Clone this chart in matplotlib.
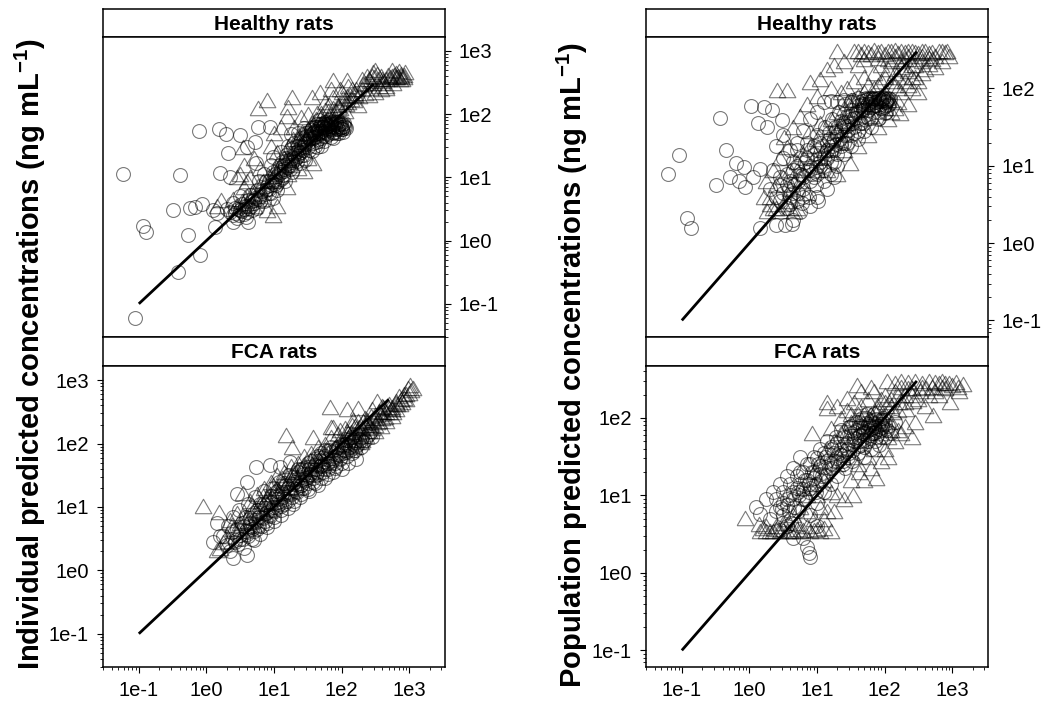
import numpy as np
import matplotlib
matplotlib.use("Agg")
import matplotlib.pyplot as plt
from matplotlib.ticker import FixedLocator, FixedFormatter, LogLocator, NullFormatter

plt.rcParams['font.family'] = ['Liberation Sans', 'DejaVu Sans']
plt.rcParams['mathtext.fontset'] = 'custom'
plt.rcParams['mathtext.rm'] = 'Liberation Sans:bold'
plt.rcParams['mathtext.bf'] = 'Liberation Sans:bold'
plt.rcParams['mathtext.default'] = 'bf'

# ---------------- data (log10 of observed x, log10 of predicted y) ----------------
tick_values = [0.1, 1, 10, 100, 1000]
tick_labels = ['1e-1', '1e0', '1e1', '1e2', '1e3']
strip_labels = ['Healthy rats', 'FCA rats']
ylabels = ['Individual predicted concentrations (ng mL$^{-1}$)',
           'Population predicted concentrations (ng mL$^{-1}$)']

healthy_ipred_circ_log10 = [
    (-1.24, 1.05), (-0.39, 1.03), (-0.11, 1.73), (0.19, 1.76), (0.29, 1.68), (0.49, 1.67), (0.77, 1.80),
    (-0.94, 0.23), (-0.89, 0.13), (-0.50, 0.48), (-0.27, 0.09), (-0.25, 0.51), (-0.17, 0.53), (-0.07, 0.58),
    (-0.10, -0.23), (-0.42, -0.49), (-1.06, -1.23), (0.20, 1.07), (0.32, 1.38), (0.60, 1.48), (0.72, 1.56),
    (0.35, 1.01), (0.99, 1.33), (0.94, 1.80), (0.74, 1.22), (0.15, 0.43), (0.13, 0.22), (0.40, 0.30),
    (0.10, 0.48), (0.39, 0.40),
    (0.35, 0.45), (0.42, 0.52), (0.48, 0.40), (0.55, 0.50), (0.60, 0.46), (0.66, 0.55), (0.52, 0.58),
    (0.45, 0.35), (0.70, 0.60), (0.75, 0.52), (0.80, 0.70), (0.85, 0.62), (0.88, 0.80), (0.92, 0.95),
    (0.95, 0.75), (1.00, 0.90), (1.02, 1.05), (1.06, 1.15), (1.10, 0.98), (1.12, 1.25), (1.15, 1.10),
    (1.18, 1.35), (1.22, 1.20), (1.25, 1.45), (1.28, 1.30), (1.30, 1.55), (1.33, 1.40), (1.36, 1.50),
    (1.40, 1.62), (1.42, 1.35), (1.45, 1.55), (1.48, 1.70), (1.50, 1.48), (1.53, 1.62), (1.55, 1.75),
    (1.58, 1.55), (1.60, 1.68), (1.62, 1.80), (1.65, 1.60), (1.68, 1.72), (1.70, 1.85), (1.72, 1.66),
    (1.75, 1.78), (1.78, 1.70), (1.80, 1.82), (1.82, 1.75), (1.85, 1.86), (1.88, 1.72), (1.90, 1.80),
    (1.92, 1.88), (1.95, 1.76), (1.98, 1.84), (2.00, 1.80), (2.03, 1.86), (2.06, 1.78), (1.84, 1.64),
    (1.74, 1.58), (1.64, 1.48), (1.56, 1.42), (1.46, 1.28), (1.38, 1.22), (1.26, 1.08), (1.16, 0.95),
    (1.05, 0.80), (0.98, 0.68), (1.20, 1.50), (1.10, 1.40), (0.95, 1.20), (0.85, 1.05), (0.78, 0.95),
    (1.35, 1.70), (1.45, 1.78), (1.25, 1.68), (0.62, 0.30), (0.58, 0.38), (0.40, 0.60), (0.30, 0.50),
    (0.50, 0.70), (0.65, 0.72), (1.70, 1.50), (1.88, 1.62), (1.96, 1.70), (2.02, 1.72), (1.82, 1.90),
    (1.76, 1.88), (1.66, 1.90),
]
healthy_ipred_circ_core_log10 = [
    (0.42, 0.44), (0.47, 0.50), (0.53, 0.47), (0.57, 0.55), (0.63, 0.52), (0.68, 0.62), (0.72, 0.68),
    (0.77, 0.66), (0.82, 0.78), (0.86, 0.74), (0.90, 0.86), (0.93, 0.82), (0.97, 0.92), (1.01, 0.98),
    (1.04, 0.95), (1.08, 1.06), (1.11, 1.12), (1.14, 1.04), (1.17, 1.20), (1.20, 1.16), (1.23, 1.28),
    (1.26, 1.24), (1.29, 1.36), (1.32, 1.30), (1.35, 1.42), (1.37, 1.38), (1.40, 1.48), (1.43, 1.44),
    (1.46, 1.52), (1.49, 1.58), (1.51, 1.54), (1.54, 1.66), (1.57, 1.62), (1.59, 1.72), (1.61, 1.64),
    (1.63, 1.76), (1.66, 1.70), (1.69, 1.80), (1.71, 1.74), (1.73, 1.82), (1.76, 1.76), (1.79, 1.84),
    (1.81, 1.78), (1.83, 1.82), (1.86, 1.80), (1.89, 1.85), (1.91, 1.76), (1.94, 1.82), (1.97, 1.78),
    (1.99, 1.86), (2.01, 1.76), (2.04, 1.82), (1.87, 1.70), (1.77, 1.66), (1.67, 1.58), (1.60, 1.50),
    (1.52, 1.44), (1.44, 1.36), (1.34, 1.26), (1.24, 1.14), (1.13, 1.00), (1.03, 0.88), (0.92, 0.76),
    (0.80, 0.62), (0.67, 0.48), (0.55, 0.42), (1.93, 1.70), (1.84, 1.88), (1.74, 1.86), (1.64, 1.84),
    (1.56, 1.78), (1.47, 1.66), (1.38, 1.56), (1.28, 1.46), (1.18, 1.30), (1.09, 1.20), (0.99, 1.08),
    (0.88, 0.94), (0.75, 0.80), (0.62, 0.64),
    (1.52, 1.60), (1.55, 1.68), (1.58, 1.64), (1.61, 1.74), (1.64, 1.66), (1.67, 1.78), (1.70, 1.70),
    (1.72, 1.80), (1.75, 1.72), (1.78, 1.82), (1.80, 1.76), (1.83, 1.86), (1.86, 1.76), (1.88, 1.82),
    (1.91, 1.86), (1.93, 1.78), (1.96, 1.84), (1.99, 1.80), (2.02, 1.84), (2.05, 1.80), (1.90, 1.72),
    (1.80, 1.68), (1.70, 1.62), (1.62, 1.56), (1.95, 1.88), (1.85, 1.84), (1.75, 1.84), (1.65, 1.74),
    (1.57, 1.70), (2.00, 1.76), (1.30, 1.28), (1.20, 1.22), (1.10, 1.08), (1.00, 0.94), (0.90, 0.82),
    (0.80, 0.74), (0.70, 0.64), (0.60, 0.55), (0.50, 0.48), (1.40, 1.40), (1.45, 1.48), (1.35, 1.34),
    (1.25, 1.20), (1.15, 1.14), (1.05, 1.02), (0.95, 0.88),
]
healthy_ipred_tri_log10 = [
    (0.45, 1.01), (0.54, 1.48), (0.50, 1.05), (0.60, 0.95), (0.55, 0.85), (0.65, 1.00), (0.77, 2.09),
    (0.89, 2.22), (1.26, 2.27), (1.56, 2.27), (1.21, 2.12), (1.19, 1.97), (1.64, 2.02), (1.88, 2.27),
    (2.08, 2.54), (1.88, 2.54), (2.47, 2.67), (2.82, 2.59), (2.92, 2.62), (2.80, 2.65), (2.90, 2.55),
    (2.60, 2.55), (2.55, 2.45), (2.35, 2.50), (2.30, 2.40), (2.20, 2.30), (2.10, 2.20), (2.25, 2.15),
    (2.40, 2.30), (2.65, 2.45), (2.15, 2.40), (2.00, 2.35), (1.95, 2.15), (1.80, 2.05), (1.75, 2.20),
    (1.70, 1.95), (1.65, 1.85), (1.55, 1.80), (1.45, 1.70), (1.35, 1.60), (1.30, 1.80), (1.40, 1.95),
    (1.50, 2.00), (1.10, 1.80), (1.00, 1.70), (0.95, 1.50), (1.05, 1.40), (1.15, 1.30), (1.25, 1.20),
    (1.35, 1.15), (1.50, 1.30), (1.58, 1.22), (1.45, 1.10), (1.20, 1.05), (1.00, 0.95), (0.89, 0.48),
    (1.19, 0.85), (0.85, 0.65), (0.75, 0.70), (0.70, 0.55), (0.60, 0.60), (0.40, 0.65), (0.22, 0.64),
    (0.15, 0.55), (0.98, 0.40), (1.05, 0.55), (0.80, 1.15), (0.70, 1.30), (0.55, 1.20), (2.05, 2.05),
    (1.90, 1.95), (1.85, 2.40), (1.68, 2.35), (2.45, 2.60), (2.50, 2.70), (2.75, 2.70), (2.70, 2.55),
    (2.85, 2.68),
]
healthy_ipred_tri_core_log10 = [
    (2.30, 2.55), (2.38, 2.60), (2.42, 2.52), (2.48, 2.58), (2.52, 2.64), (2.58, 2.60), (2.62, 2.52),
    (2.68, 2.62), (2.72, 2.58), (2.78, 2.62), (2.84, 2.60), (2.88, 2.64), (2.94, 2.66), (2.86, 2.55),
    (2.76, 2.50), (2.66, 2.42), (2.58, 2.40), (2.50, 2.35), (2.42, 2.42), (2.34, 2.34), (2.26, 2.28),
    (2.18, 2.22), (2.12, 2.30), (2.06, 2.16), (1.98, 2.10), (1.92, 2.05), (1.84, 2.00), (1.78, 1.92),
    (1.72, 1.88), (1.66, 1.80), (1.60, 1.74), (1.52, 1.68), (1.46, 1.62), (1.40, 1.52), (1.32, 1.46),
    (1.24, 1.38), (1.16, 1.28), (1.08, 1.18), (1.00, 1.10), (0.92, 1.02), (0.84, 0.94), (0.76, 0.86),
    (0.68, 0.76), (0.60, 0.70), (0.52, 0.62), (0.44, 0.55), (2.22, 2.40), (2.10, 2.45), (1.98, 2.40),
    (2.02, 2.25),
    (2.32, 2.48), (2.40, 2.55), (2.46, 2.50), (2.54, 2.56), (2.60, 2.50), (2.66, 2.56), (2.74, 2.60),
    (2.80, 2.58), (2.88, 2.60), (2.92, 2.58), (2.20, 2.34), (2.14, 2.24), (2.08, 2.28), (2.00, 2.20),
    (1.94, 2.12), (1.88, 2.10), (1.82, 2.14), (1.76, 2.06), (1.70, 2.02), (1.62, 1.92), (1.56, 1.86),
    (1.50, 1.76), (1.42, 1.72), (1.36, 1.66), (1.28, 1.60), (1.20, 1.48),
]
fca_ipred_circ_log10 = [
    (0.25, 0.55), (0.30, 0.40), (0.32, 0.70), (0.35, 0.30), (0.38, 0.60), (0.40, 0.85), (0.42, 0.45),
    (0.45, 0.65), (0.48, 0.95), (0.50, 0.50), (0.52, 0.75), (0.55, 0.35), (0.58, 0.85), (0.60, 0.60),
    (0.62, 1.05), (0.65, 0.70), (0.68, 0.50), (0.70, 0.90), (0.72, 1.15), (0.75, 0.65), (0.78, 0.85),
    (0.80, 1.05), (0.82, 0.70), (0.85, 1.25), (0.88, 0.90), (0.90, 0.75), (0.92, 1.10), (0.95, 0.95),
    (0.98, 1.30), (1.00, 0.85), (1.02, 1.15), (1.05, 1.00), (1.08, 1.40), (1.10, 0.95), (1.12, 1.20),
    (1.15, 1.05), (1.18, 1.35), (1.20, 1.10), (1.22, 1.50), (1.25, 1.20), (1.28, 1.05), (1.30, 1.40),
    (1.32, 1.25), (1.35, 1.55), (1.38, 1.15), (1.40, 1.35), (1.42, 1.60), (1.45, 1.30), (1.48, 1.45),
    (1.50, 1.70), (1.52, 1.25), (1.55, 1.55), (1.58, 1.40), (1.60, 1.75), (1.62, 1.50), (1.65, 1.35),
    (1.68, 1.65), (1.70, 1.85), (1.72, 1.55), (1.75, 1.45), (1.78, 1.75), (1.80, 1.60), (1.82, 1.90),
    (1.85, 1.70), (1.88, 1.55), (1.90, 1.80), (1.92, 1.65), (1.95, 1.95), (1.98, 1.75), (2.00, 1.60),
    (2.02, 1.85), (2.05, 2.00), (2.08, 1.80), (2.10, 1.70), (2.12, 1.95), (2.15, 1.85), (2.18, 2.05),
    (2.20, 1.90), (2.22, 1.75), (2.25, 2.00), (2.28, 1.95), (2.30, 2.10), (2.35, 2.05), (2.40, 2.15),
    (2.45, 2.10), (0.74, 1.63), (0.94, 1.66), (1.09, 1.63), (1.24, 1.71), (0.60, 1.40), (0.45, 1.20),
    (0.15, 0.75), (0.20, 0.55), (0.10, 0.45), (0.60, 0.25), (0.40, 0.20),
]
fca_ipred_circ_core_log10 = [
    (0.42, 0.48), (0.46, 0.42), (0.50, 0.56), (0.54, 0.50), (0.58, 0.62), (0.62, 0.55), (0.66, 0.68),
    (0.70, 0.62), (0.74, 0.76), (0.78, 0.70), (0.82, 0.84), (0.86, 0.78), (0.90, 0.92), (0.94, 0.86),
    (0.98, 1.00), (1.02, 0.94), (1.06, 1.08), (1.10, 1.02), (1.14, 1.16), (1.18, 1.10), (1.22, 1.24),
    (1.26, 1.16), (1.30, 1.30), (1.34, 1.24), (1.38, 1.38), (1.42, 1.30), (1.46, 1.46), (1.50, 1.38),
    (1.54, 1.52), (1.58, 1.46), (1.62, 1.60), (1.66, 1.52), (1.70, 1.66), (1.74, 1.60), (1.78, 1.70),
    (1.82, 1.64), (1.86, 1.78), (1.90, 1.70), (1.94, 1.84), (1.98, 1.78), (2.02, 1.92), (2.06, 1.86),
    (2.10, 1.98), (2.14, 1.92), (2.18, 2.00), (2.22, 1.96), (2.26, 2.08), (2.32, 2.02), (2.38, 2.12),
    (2.44, 2.20), (0.55, 0.70), (0.65, 0.82), (0.75, 0.95), (0.85, 1.05), (0.95, 1.18), (1.05, 1.25),
    (1.15, 1.38), (1.25, 1.48), (1.35, 1.60), (1.45, 1.62), (1.55, 1.72), (1.65, 1.80), (1.75, 1.90),
    (1.85, 1.95), (0.70, 0.48), (0.80, 0.58), (0.90, 0.68), (1.00, 0.78), (1.10, 0.88), (1.20, 0.98),
    (1.30, 1.10), (1.40, 1.20), (1.50, 1.28), (1.60, 1.38), (1.70, 1.45), (1.80, 1.52), (1.90, 1.62),
    (2.00, 1.70),
    (0.60, 0.58), (0.68, 0.66), (0.76, 0.72), (0.84, 0.82), (0.92, 0.88), (1.00, 0.96), (1.08, 1.04),
    (1.16, 1.12), (1.24, 1.22), (1.32, 1.28), (1.40, 1.34), (1.48, 1.42), (1.56, 1.50), (1.64, 1.56),
    (1.72, 1.64), (1.80, 1.70), (1.88, 1.74), (1.96, 1.82), (2.04, 1.90), (2.12, 1.96), (2.20, 2.02),
    (2.28, 2.06), (0.64, 0.74), (0.72, 0.80), (0.80, 0.90), (0.88, 0.98), (0.96, 1.06), (1.04, 1.12),
    (1.12, 1.22), (1.20, 1.30), (1.28, 1.36), (1.36, 1.46), (1.44, 1.52), (1.52, 1.60), (1.60, 1.66),
    (1.68, 1.74), (1.76, 1.80), (1.84, 1.86), (1.92, 1.92), (2.00, 1.98), (2.08, 2.06), (2.16, 2.10),
]
fca_ipred_tri_log10 = [
    (3.01, 2.92), (3.06, 2.87), (2.92, 2.79), (2.85, 2.75), (2.95, 2.70), (2.80, 2.68), (2.70, 2.62),
    (2.60, 2.60), (2.52, 2.68), (2.62, 2.58), (2.37, 2.37), (2.50, 2.45), (2.45, 2.55), (2.55, 2.50),
    (2.65, 2.50), (2.75, 2.58), (2.40, 2.30), (2.30, 2.25), (2.35, 2.40), (2.25, 2.35), (2.20, 2.15),
    (2.15, 2.30), (2.10, 2.10), (2.05, 2.25), (2.00, 2.00), (1.95, 2.15), (1.90, 1.95), (1.85, 2.10),
    (1.83, 2.58), (2.08, 2.55), (2.25, 2.57), (1.18, 2.14), (1.26, 1.95), (1.58, 2.11), (1.88, 2.26),
    (1.98, 2.21), (1.85, 2.27), (2.17, 2.38), (1.80, 1.85), (1.75, 2.00), (1.70, 1.80), (1.65, 1.95),
    (1.60, 1.70), (1.55, 1.85), (1.50, 1.65), (1.45, 1.80), (1.40, 1.55), (1.35, 1.70), (1.30, 1.50),
    (1.25, 1.65), (1.20, 1.40), (1.15, 1.55), (1.10, 1.35), (1.05, 1.50), (1.00, 1.25), (0.95, 1.40),
    (0.90, 1.15), (0.85, 1.30), (0.80, 1.05), (0.75, 1.20), (0.70, 0.95), (0.65, 1.10), (0.60, 0.85),
    (0.54, 1.22), (0.50, 0.75), (0.45, 0.90), (0.40, 0.65), (0.35, 0.80), (0.30, 0.55), (0.25, 0.45),
    (0.20, 0.35), (0.15, 0.32), (-0.05, 1.01), (0.18, 0.92), (2.20, 1.95), (2.30, 2.05), (2.40, 2.20),
    (2.50, 2.30), (2.60, 2.40), (2.70, 2.50), (2.80, 2.55), (2.90, 2.65), (2.45, 2.25), (2.55, 2.35),
]
fca_ipred_tri_core_log10 = [
    (1.92, 1.96), (1.98, 2.06), (2.04, 2.02), (2.10, 2.16), (2.16, 2.12), (2.22, 2.24), (2.28, 2.18),
    (2.34, 2.30), (2.40, 2.26), (2.46, 2.38), (2.52, 2.34), (2.58, 2.46), (2.64, 2.42), (2.70, 2.56),
    (2.76, 2.50), (2.82, 2.62), (2.88, 2.70), (2.96, 2.78), (3.02, 2.84), (2.98, 2.88), (2.50, 2.20),
    (2.58, 2.28), (2.66, 2.36), (2.74, 2.44), (2.36, 2.12), (2.28, 2.02), (2.20, 2.05), (2.12, 1.90),
    (1.68, 1.72), (1.62, 1.62), (1.56, 1.68), (1.48, 1.52), (1.42, 1.62), (1.36, 1.44), (1.28, 1.56),
    (1.22, 1.32), (1.12, 1.46), (1.06, 1.22), (0.98, 1.34), (0.92, 1.08), (0.84, 1.18), (0.78, 0.94),
    (0.68, 1.02), (0.62, 0.78), (0.52, 0.86), (0.46, 0.62), (0.38, 0.72), (0.32, 0.46),
    (2.02, 2.08), (2.08, 2.20), (2.14, 2.18), (2.20, 2.28), (2.26, 2.26), (2.32, 2.36), (2.38, 2.34),
    (2.44, 2.44), (2.50, 2.40), (2.56, 2.52), (2.62, 2.50), (2.68, 2.58), (2.74, 2.54), (2.80, 2.64),
    (2.86, 2.62), (2.92, 2.72), (3.00, 2.80), (1.78, 1.90), (1.72, 1.86), (1.64, 1.80), (1.54, 1.74),
    (1.44, 1.66), (1.34, 1.58), (1.24, 1.46), (1.14, 1.38), (1.04, 1.30), (0.94, 1.20), (0.86, 1.10),
]
healthy_pred_circ_log10 = [
    (-1.21, 0.90), (-1.04, 1.14), (-0.92, 0.32), (-0.87, 0.19), (-0.43, 1.62), (0.02, 1.77), (0.21, 1.76),
    (0.34, 1.72), (-0.35, 1.20), (-0.20, 1.03), (-0.08, 0.99), (-0.50, 0.75), (-0.28, 0.86), (-0.06, 0.73),
    (0.16, 0.96), (0.16, 0.19), (0.39, 0.23), (0.53, 0.24), (0.63, 0.25), (0.12, 1.55), (0.26, 1.50),
    (0.48, 1.59), (-0.15, 0.80), (0.05, 0.85),
    (0.30, 0.70), (0.35, 0.95), (0.40, 0.60), (0.45, 0.85), (0.50, 1.10), (0.55, 0.75), (0.60, 0.50),
    (0.65, 0.95), (0.70, 1.20), (0.72, 0.65), (0.75, 0.40), (0.80, 0.85), (0.82, 1.05), (0.85, 1.30),
    (0.88, 0.60), (0.90, 0.95), (0.95, 1.15), (0.98, 0.75), (1.00, 1.40), (1.02, 0.55), (1.05, 1.00),
    (1.08, 1.25), (1.10, 0.80), (1.12, 1.50), (1.15, 1.10), (1.18, 1.35), (1.20, 0.90), (1.22, 1.60),
    (1.25, 1.20), (1.28, 1.45), (1.30, 1.00), (1.32, 1.70), (1.35, 1.30), (1.38, 1.55), (1.40, 1.15),
    (1.42, 1.80), (1.45, 1.40), (1.48, 1.65), (1.50, 1.25), (1.52, 1.85), (1.55, 1.50), (1.58, 1.70),
    (1.60, 1.35), (1.62, 1.82), (1.65, 1.55), (1.68, 1.75), (1.70, 1.45), (1.72, 1.88), (1.75, 1.62),
    (1.78, 1.80), (1.80, 1.50), (1.82, 1.85), (1.85, 1.70), (1.88, 1.82), (1.90, 1.60), (1.92, 1.88),
    (1.95, 1.75), (1.98, 1.85), (2.00, 1.68), (2.02, 1.82), (2.05, 1.78), (2.08, 1.86), (1.10, 1.82),
    (1.20, 1.84), (1.30, 1.83), (1.40, 1.85), (1.50, 1.82), (1.60, 1.88), (0.90, 1.60), (1.00, 1.70),
    (0.80, 1.45), (0.70, 1.30), (0.60, 1.20), (0.45, 0.55), (0.55, 0.45), (0.65, 0.30), (0.78, 0.52),
    (0.90, 0.48), (1.00, 0.60), (1.15, 0.70), (1.25, 0.85), (0.50, 1.40), (0.40, 1.25),
]
healthy_pred_circ_core_log10 = [
    (0.45, 0.75), (0.50, 0.65), (0.55, 0.90), (0.60, 0.80), (0.65, 0.65), (0.70, 1.00), (0.75, 0.90),
    (0.80, 0.70), (0.85, 1.10), (0.90, 1.00), (0.95, 0.85), (1.00, 1.20), (1.05, 1.10), (1.10, 0.95),
    (1.15, 1.30), (1.20, 1.20), (1.25, 1.05), (1.30, 1.40), (1.35, 1.25), (1.40, 1.50), (1.45, 1.30),
    (1.50, 1.60), (1.55, 1.42), (1.60, 1.70), (1.63, 1.55), (1.66, 1.80), (1.70, 1.65), (1.73, 1.85),
    (1.76, 1.72), (1.79, 1.88), (1.82, 1.76), (1.85, 1.86), (1.88, 1.78), (1.91, 1.84), (1.94, 1.80),
    (1.97, 1.88), (2.00, 1.82), (2.03, 1.86), (2.06, 1.80), (1.90, 1.70), (1.80, 1.62), (1.70, 1.55),
    (1.60, 1.45), (1.50, 1.40), (1.40, 1.30), (1.30, 1.15), (1.20, 1.05), (1.10, 1.00), (1.00, 0.90),
    (0.90, 0.80), (0.80, 0.60), (0.70, 0.55), (0.60, 0.60), (1.95, 1.86), (1.85, 1.88), (1.75, 1.80),
    (1.65, 1.72), (1.55, 1.62), (1.45, 1.52), (1.35, 1.45), (1.25, 1.35), (1.15, 1.20), (1.05, 1.30),
    (0.95, 1.25), (0.85, 1.20), (0.75, 1.10), (0.65, 1.05), (1.99, 1.76), (2.02, 1.70), (1.92, 1.62),
    (1.62, 1.78), (1.66, 1.84), (1.70, 1.80), (1.74, 1.86), (1.78, 1.82), (1.82, 1.88), (1.86, 1.82),
    (1.90, 1.88), (1.94, 1.84), (1.98, 1.88), (2.02, 1.84), (2.05, 1.88), (1.68, 1.72), (1.76, 1.76),
    (1.84, 1.78), (1.92, 1.76), (2.00, 1.78), (1.58, 1.62), (1.52, 1.55), (1.46, 1.46), (1.40, 1.40),
    (1.34, 1.35), (1.28, 1.28), (1.22, 1.25), (1.16, 1.15), (1.10, 1.10), (1.04, 1.05), (0.98, 0.98),
    (0.92, 0.90), (0.86, 0.95), (0.78, 0.88), (0.72, 0.80), (0.66, 0.75), (0.58, 0.70), (1.50, 1.72),
    (1.44, 1.65), (1.36, 1.58), (1.26, 1.50), (1.18, 1.42),
]
healthy_pred_tri_log10 = [
    (1.30, 2.48), (1.55, 2.48), (1.75, 2.47), (1.85, 2.50), (1.95, 2.49), (2.05, 2.48), (2.15, 2.50),
    (2.25, 2.48), (2.35, 2.49), (2.45, 2.47), (2.55, 2.48), (2.65, 2.46), (2.80, 2.49), (2.90, 2.47),
    (2.95, 2.42), (2.20, 2.46), (2.00, 2.44), (1.80, 2.45),
    (0.41, 1.98), (0.56, 1.98), (0.90, 2.09), (1.05, 2.12), (1.15, 2.25), (1.25, 2.30), (1.40, 2.35),
    (1.60, 2.30), (1.70, 2.38), (1.90, 2.40), (2.10, 2.35), (2.30, 2.38), (2.40, 2.30), (2.55, 2.35),
    (2.70, 2.38), (2.85, 2.36), (2.60, 2.25), (2.45, 2.15), (2.30, 2.10), (2.20, 2.00), (2.40, 2.00),
    (2.23, 1.68), (2.35, 1.80), (2.50, 1.95), (2.10, 1.85), (2.00, 1.95), (1.95, 2.10), (1.85, 2.20),
    (1.70, 2.15), (1.55, 2.10), (1.45, 2.00), (1.35, 1.95), (1.20, 2.00), (1.00, 1.90), (0.85, 1.80),
    (0.75, 1.65), (0.65, 1.50), (0.51, 1.37), (0.56, 1.24), (0.45, 1.10), (0.35, 0.95), (0.25, 0.80),
    (0.21, 0.60), (0.26, 0.42), (0.66, 0.42), (0.45, 0.42), (0.55, 0.55), (0.75, 0.80), (0.85, 0.65),
    (1.00, 0.94), (1.49, 1.03), (1.40, 1.20), (1.60, 1.25), (1.75, 1.40), (1.90, 1.50), (2.05, 1.60),
    (2.15, 1.75), (1.30, 0.90), (1.15, 0.95), (0.95, 1.10), (0.70, 0.95), (0.60, 0.70), (0.30, 0.60),
    (0.35, 0.45), (1.65, 1.60), (1.80, 1.65), (1.70, 1.95), (1.55, 1.85), (0.90, 1.45), (1.05, 1.55),
]
healthy_pred_tri_core_log10 = [
    (1.60, 2.48), (1.65, 2.45), (1.70, 2.49), (1.90, 2.47), (2.10, 2.49), (2.30, 2.47), (2.40, 2.49),
    (2.50, 2.46), (2.60, 2.48), (2.70, 2.47), (2.85, 2.48), (2.92, 2.49), (1.95, 2.30), (2.05, 2.25),
    (2.15, 2.20), (2.25, 2.28), (2.35, 2.22), (2.45, 2.30), (2.55, 2.20), (2.65, 2.32), (2.75, 2.28),
    (1.75, 2.05), (1.85, 2.00), (1.95, 1.90), (2.05, 1.85), (2.15, 2.05), (2.25, 1.95), (2.35, 2.05),
    (1.60, 1.90), (1.50, 1.85), (1.40, 1.75), (1.30, 1.70), (1.20, 1.60), (1.10, 1.50), (1.00, 1.35),
    (0.90, 1.25), (0.80, 1.15), (0.70, 1.05), (0.60, 0.95), (0.50, 0.85), (0.40, 0.75), (0.30, 0.50),
    (0.40, 0.45), (0.50, 0.50), (0.60, 0.45), (0.70, 0.45), (1.20, 1.35), (1.30, 1.45), (1.10, 1.20),
    (1.45, 1.55),
    (2.05, 2.38), (2.15, 2.42), (2.25, 2.36), (2.35, 2.42), (2.45, 2.38), (2.55, 2.42), (2.65, 2.40),
    (2.75, 2.42), (2.00, 2.15), (2.10, 2.10), (2.20, 2.15), (2.30, 2.25), (2.40, 2.15), (2.50, 2.10),
    (1.90, 2.05), (1.80, 1.90), (1.70, 1.80), (2.00, 1.75), (2.10, 1.70), (2.20, 1.82), (1.55, 1.70),
    (1.45, 1.65), (1.35, 1.55), (1.25, 1.50),
]
fca_pred_circ_log10 = [
    (0.85, 0.33), (0.88, 0.25), (0.90, 0.20), (0.75, 1.49), (0.16, 0.76), (0.10, 0.85), (0.25, 0.95),
    (0.30, 0.70), (0.35, 1.05), (0.40, 0.80), (0.45, 1.15), (0.50, 0.90), (0.55, 1.25), (0.60, 1.00),
    (0.62, 0.65), (0.65, 1.35), (0.70, 1.10), (0.72, 0.80), (0.75, 1.30), (0.78, 0.95), (0.80, 0.45),
    (0.82, 1.20), (0.85, 1.40), (0.88, 1.05), (0.90, 0.75), (0.92, 1.30), (0.95, 1.50), (0.98, 1.15),
    (1.00, 0.90), (1.02, 1.40), (1.05, 1.60), (1.08, 1.25), (1.10, 1.05), (1.12, 1.50), (1.15, 1.70),
    (1.18, 1.35), (1.20, 1.15), (1.22, 1.60), (1.25, 1.45), (1.28, 1.75), (1.30, 1.25), (1.32, 1.55),
    (1.35, 1.85), (1.38, 1.45), (1.40, 1.65), (1.42, 1.35), (1.45, 1.75), (1.48, 1.55), (1.50, 1.90),
    (1.52, 1.45), (1.55, 1.70), (1.58, 1.85), (1.60, 1.55), (1.62, 1.95), (1.65, 1.65), (1.68, 1.80),
    (1.70, 1.50), (1.72, 2.00), (1.75, 1.70), (1.78, 1.90), (1.80, 1.60), (1.82, 1.80), (1.85, 2.05),
    (1.88, 1.75), (1.90, 1.90), (1.92, 1.65), (1.95, 1.85), (1.98, 2.00), (2.00, 1.75), (2.05, 1.90),
    (2.10, 1.80), (2.15, 1.95), (0.55, 0.60), (0.45, 0.55), (0.65, 0.45), (1.00, 0.60),
]
fca_pred_circ_core_log10 = [
    (0.40, 0.95), (0.45, 0.85), (0.50, 1.05), (0.55, 0.95), (0.60, 1.15), (0.65, 1.05), (0.70, 1.25),
    (0.75, 1.15), (0.80, 1.30), (0.85, 1.20), (0.90, 1.40), (0.95, 1.30), (1.00, 1.48), (1.05, 1.38),
    (1.10, 1.55), (1.15, 1.45), (1.20, 1.62), (1.25, 1.55), (1.30, 1.68), (1.35, 1.60), (1.40, 1.75),
    (1.45, 1.68), (1.50, 1.80), (1.55, 1.74), (1.60, 1.84), (1.64, 1.78), (1.68, 1.88), (1.72, 1.82),
    (1.76, 1.92), (1.80, 1.86), (1.84, 1.94), (1.88, 1.84), (1.92, 1.96), (1.96, 1.88), (2.00, 1.92),
    (2.04, 1.84), (1.86, 1.70), (1.78, 1.74), (1.70, 1.62), (1.62, 1.70), (1.54, 1.58), (1.46, 1.50),
    (1.38, 1.40), (1.30, 1.45), (1.22, 1.35), (1.14, 1.25), (1.06, 1.18), (0.98, 1.05), (0.90, 1.10),
    (0.82, 0.95), (0.74, 1.00), (0.66, 0.85), (0.58, 0.80), (0.50, 0.75), (1.66, 2.00), (1.74, 2.05),
    (1.84, 1.80), (1.94, 1.76), (1.58, 1.95), (1.48, 1.88),
    (1.55, 1.82), (1.60, 1.76), (1.64, 1.90), (1.68, 1.80), (1.72, 1.94), (1.76, 1.84), (1.80, 1.96),
    (1.84, 1.88), (1.88, 1.98), (1.92, 1.86), (1.96, 1.96), (2.00, 1.86), (1.70, 1.72), (1.78, 1.78),
    (1.86, 1.82), (1.94, 1.92), (1.62, 1.64), (1.52, 1.66), (1.44, 1.60), (1.36, 1.52), (1.28, 1.48),
    (1.20, 1.42), (1.12, 1.36), (1.04, 1.28), (0.96, 1.22), (0.88, 1.15), (0.80, 1.08), (0.72, 1.05),
    (0.64, 0.95), (0.56, 0.88), (0.48, 0.82),
]
fca_pred_tri_log10 = [
    (2.03, 2.47), (2.15, 2.45), (2.25, 2.47), (2.35, 2.46), (2.45, 2.47), (2.55, 2.45), (2.65, 2.47),
    (2.75, 2.46), (2.85, 2.47), (2.95, 2.45), (3.05, 2.46), (3.16, 2.44), (1.59, 2.43), (1.80, 2.40),
    (2.90, 2.38), (3.10, 2.35), (2.97, 2.21), (2.72, 2.04), (2.60, 2.15), (2.50, 2.25), (2.40, 2.30),
    (2.80, 2.30), (2.30, 2.20), (2.20, 2.10), (2.10, 2.25), (2.00, 2.30), (1.90, 2.15), (1.75, 2.25),
    (1.65, 2.35), (1.44, 2.26), (1.15, 2.21), (1.15, 2.13), (1.30, 2.15), (0.93, 1.81), (1.20, 1.87),
    (1.35, 2.00), (1.50, 2.05), (1.60, 1.95), (1.70, 2.05), (1.85, 1.95), (2.00, 2.05), (2.10, 1.95),
    (2.20, 1.85), (2.30, 1.90), (2.40, 1.75), (2.45, 1.95), (2.15, 1.70), (2.00, 1.60), (1.88, 1.23),
    (1.54, 1.01), (1.80, 1.35), (1.95, 1.45), (2.05, 1.50), (1.70, 1.20), (1.40, 0.95), (1.25, 0.80),
    (1.10, 0.70), (1.20, 1.05), (1.05, 0.85), (0.95, 0.70), (0.85, 0.60), (-0.06, 0.71), (0.14, 0.63),
    (0.16, 0.54), (0.30, 0.54), (0.45, 0.54), (0.60, 0.54), (0.75, 0.54), (0.90, 0.54), (1.05, 0.54),
    (1.20, 0.54), (0.25, 0.60), (0.50, 0.65), (0.70, 0.65), (0.85, 0.80), (1.00, 1.00), (1.10, 1.20),
    (1.30, 1.40), (1.40, 1.60), (1.50, 1.50), (1.60, 1.40), (1.65, 1.70), (0.95, 1.30), (0.80, 1.10),
]
fca_pred_tri_core_log10 = [
    (1.70, 1.90), (1.78, 1.98), (1.86, 2.08), (1.94, 2.00), (2.02, 2.15), (2.12, 2.08), (2.22, 2.20),
    (2.32, 2.12), (2.42, 2.22), (2.52, 2.35), (2.62, 2.38), (2.70, 2.40), (2.80, 2.45), (2.90, 2.45),
    (3.00, 2.42), (3.08, 2.40), (2.25, 2.40), (2.35, 2.38), (2.15, 2.35), (1.95, 2.25), (1.85, 2.35),
    (1.65, 2.15), (1.55, 2.20), (1.45, 2.10), (1.35, 1.80), (1.25, 1.70), (1.15, 1.60), (1.05, 1.45),
    (0.95, 1.15), (0.85, 1.00), (0.75, 0.85), (0.65, 0.75), (0.55, 0.70), (0.40, 0.60), (0.35, 0.54),
    (0.55, 0.54), (0.70, 0.56), (0.95, 0.55), (1.10, 0.58), (1.15, 0.80), (1.30, 1.00), (1.50, 1.20),
    (1.62, 1.30), (1.75, 1.50), (1.85, 1.60), (2.05, 1.75), (2.25, 1.80),
    (1.80, 2.05), (1.90, 2.10), (2.00, 2.20), (2.10, 2.15), (2.20, 2.30), (2.30, 2.30), (2.40, 2.38),
    (2.55, 2.40), (2.65, 2.30), (2.75, 2.35), (2.85, 2.40), (1.60, 2.05), (1.50, 1.95), (1.40, 1.85),
    (1.75, 1.80), (1.95, 1.80), (2.10, 1.85), (0.25, 0.54), (0.50, 0.55), (0.65, 0.54), (0.80, 0.55),
    (1.00, 0.56), (0.20, 0.58), (0.40, 0.56),
]
# identity reference line extent (concentration units) per panel
line_healthy_ipred = [0.1, 300]
line_fca_ipred = [0.1, 500]
line_healthy_pred = [0.1, 300]
line_fca_pred = [0.1, 300]

# ---------------- layout ----------------
W, H = 1047, 707
fig = plt.figure(figsize=(W / 100, H / 100), dpi=100)


def rect(x0, y0, x1, y1):
    return [x0 / W, 1 - y1 / H, (x1 - x0) / W, (y1 - y0) / H]


tri_marker = [(-1, -0.866), (1, -0.866), (0, 0.866), (-1, -0.866)]
EDGE = (0, 0, 0, 0.52)
TICK_FS = 14.5


def make_panel(x0, x1, ylim_log, yticks, circ_top, tri_top, line_top,
               circ_bot, tri_bot, line_bot, ylabel, ylab_x, ylab_y):
    xlim = (10 ** -1.53, 10 ** 3.53)
    ylim = (10 ** ylim_log[0], 10 ** ylim_log[1])
    panels = [
        (9.3, 36.7, 337.0, strip_labels[0], circ_top, tri_top, line_top, True),
        (337.0, 366.0, 667.0, strip_labels[1], circ_bot, tri_bot, line_bot, False),
    ]
    for s0, s1, p1, label, circ, tri, line, is_top in panels:
        sax = fig.add_axes(rect(x0, s0, x1, s1))
        sax.set_xticks([]); sax.set_yticks([])
        for sp in sax.spines.values():
            sp.set_linewidth(1.1)
        sax.text(0.5, 0.45, label, ha='center', va='center', fontsize=15,
                 fontweight='bold', transform=sax.transAxes)
        ax = fig.add_axes(rect(x0, s1, x1, p1))
        c = 10 ** np.array(circ)
        t = 10 ** np.array(tri)
        ax.plot(c[:, 0], c[:, 1], linestyle='none', marker='o', markersize=10,
                markerfacecolor='none', markeredgecolor=EDGE, markeredgewidth=0.8, zorder=2)
        ax.plot(t[:, 0], t[:, 1], linestyle='none', marker=tri_marker, markersize=12,
                markerfacecolor='none', markeredgecolor=EDGE, markeredgewidth=0.8, zorder=2)
        ax.plot(line, line, color='black', linewidth=2.0, zorder=3, solid_capstyle='butt')
        ax.set_xscale('log'); ax.set_yscale('log')
        ax.set_xlim(xlim); ax.set_ylim(ylim)
        for sp in ax.spines.values():
            sp.set_linewidth(1.1)
        ax.xaxis.set_major_locator(FixedLocator(tick_values))
        ax.xaxis.set_major_formatter(FixedFormatter(tick_labels))
        ax.xaxis.set_minor_locator(LogLocator(base=10, subs=np.arange(2, 10)))
        ax.xaxis.set_minor_formatter(NullFormatter())
        yv = tick_values[:len(yticks)]
        ax.yaxis.set_major_locator(FixedLocator(yv))
        ax.yaxis.set_major_formatter(FixedFormatter(yticks))
        ax.yaxis.set_minor_locator(LogLocator(base=10, subs=np.arange(2, 10)))
        ax.yaxis.set_minor_formatter(NullFormatter())
        ax.tick_params(which='major', direction='out', length=4, width=0.8, labelsize=TICK_FS, pad=6)
        ax.tick_params(which='minor', direction='out', length=2, width=0.6)
        if is_top:
            ax.tick_params(which='both', bottom=False, labelbottom=False, left=False, labelleft=False,
                           right=True, labelright=True, top=False)
        else:
            ax.tick_params(which='both', bottom=True, labelbottom=True, left=True, labelleft=True,
                           right=False, labelright=False, top=False)
    fig.text(ylab_x / W, 1 - ylab_y / H, ylabel, rotation=90, ha='center', va='center',
             fontsize=21, fontweight='bold')


make_panel(103, 445, (-1.525, 3.225), tick_labels,
           healthy_ipred_circ_log10 + healthy_ipred_circ_core_log10,
           healthy_ipred_tri_log10 + healthy_ipred_tri_core_log10, line_healthy_ipred,
           fca_ipred_circ_log10 + fca_ipred_circ_core_log10,
           fca_ipred_tri_log10 + fca_ipred_tri_core_log10, line_fca_ipred,
           ylabels[0], 30, 354)
make_panel(646, 988, (-1.215, 2.67), tick_labels[:4],
           healthy_pred_circ_log10 + healthy_pred_circ_core_log10,
           healthy_pred_tri_log10 + healthy_pred_tri_core_log10, line_healthy_pred,
           fca_pred_circ_log10 + fca_pred_circ_core_log10,
           fca_pred_tri_log10 + fca_pred_tri_core_log10, line_fca_pred,
           ylabels[1], 572, 365)

fig.savefig('out.png', dpi=100)
